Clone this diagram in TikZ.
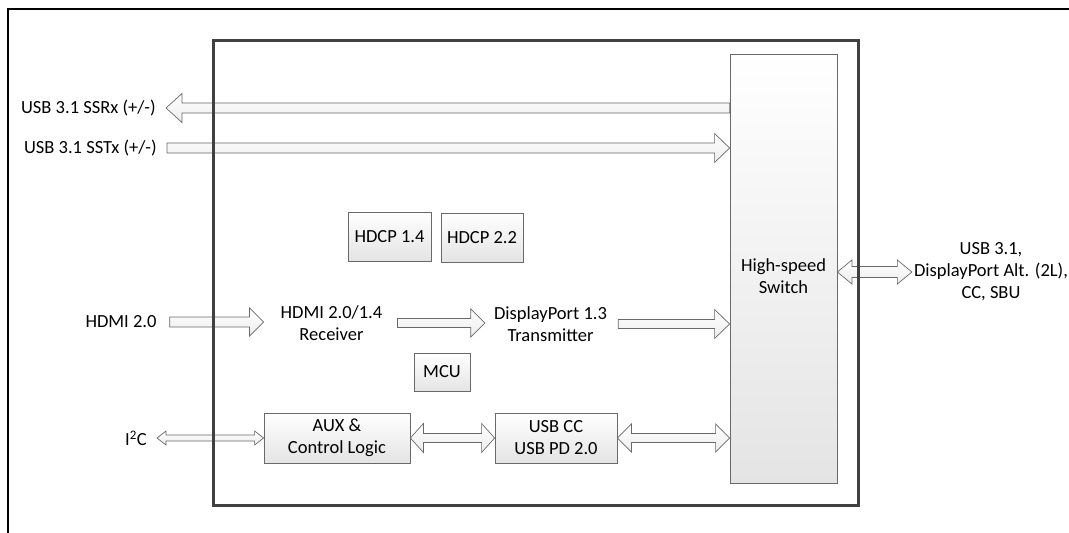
\documentclass[tikz,border=0pt]{standalone}
\usepackage{fontspec}
\setmainfont{Carlito}
\usetikzlibrary{calc}
\definecolor{chipgray}{RGB}{64, 64, 64}
\definecolor{edgegray}{RGB}{105, 105, 105}
\definecolor{shadegray}{RGB}{228, 228, 228}

\tikzset{
  txt/.style={inner sep=0pt,align=center,font=\fontsize{18.5}{22}\selectfont},
  blockbox/.style={txt,draw=edgegray,line width=0.8pt,top color=white,bottom color=shadegray},
  fatline/.style={draw=edgegray,line width=0.7pt,top color=white,bottom color=shadegray!70},
}

% wide arrow, head at #2, height taken from #1
\newcommand{\fatarrow}[5]{%
  \path[fatline] let \p1=(#1), \p2=(#2), \n1={sign(\x2-\x1)} in
    (\x1,\y1+#3pt) -- (\x2-\n1*#5pt,\y1+#3pt) -- (\x2-\n1*#5pt,\y1+#4pt) -- (\x2,\y1)
    -- (\x2-\n1*#5pt,\y1-#4pt) -- (\x2-\n1*#5pt,\y1-#3pt) -- (\x1,\y1-#3pt) -- cycle;}
% wide arrow, heads at both ends
\newcommand{\fatboth}[5]{%
  \path[fatline] let \p1=(#1), \p2=(#2), \n1={sign(\x2-\x1)} in
    (\x1,\y1) -- (\x1+\n1*#5pt,\y1+#4pt) -- (\x1+\n1*#5pt,\y1+#3pt)
    -- (\x2-\n1*#5pt,\y1+#3pt) -- (\x2-\n1*#5pt,\y1+#4pt) -- (\x2,\y1)
    -- (\x2-\n1*#5pt,\y1-#4pt) -- (\x2-\n1*#5pt,\y1-#3pt)
    -- (\x1+\n1*#5pt,\y1-#3pt) -- (\x1+\n1*#5pt,\y1-#4pt) -- cycle;}

\begin{document}
\begin{tikzpicture}[x=1pt,y=-1pt]
  \useasboundingbox (0,0) rectangle (1069,533);
  % outer frame
  \draw[line width=2.5pt] (8,533) -- (8,9) -- (1069,9);

  % switch
  \node[blockbox,minimum width=107pt,minimum height=429pt] (sw) at (783.5,268.5) {\rule{0pt}{29pt}High-speed\\Switch};

  % blocks
  \node[blockbox,minimum width=83pt,minimum height=49pt] (hdcpa) at (389.5,236.5) {HDCP 1.4};
  \node[blockbox,minimum width=82pt,minimum height=49pt] (hdcpb) at (482,237.5) {HDCP 2.2};
  \node[blockbox,minimum width=56pt,minimum height=38pt] (mcu) at (442,372) {MCU};
  \node[blockbox,minimum width=146pt,minimum height=50pt] (aux) at (337,438) {AUX \&\\Control Logic};
  \node[blockbox,minimum width=122pt,minimum height=50pt] (usbcc) at (556,438) {USB CC\\USB PD 2.0};
  \node[txt] (rcv) at (331.5,323) {HDMI 2.0/1.4\\Receiver};
  \node[txt] (dptx) at (550.5,324) {DisplayPort 1.3\\Transmitter};

  % pins
  \node[txt,anchor=east] (rx) at (156,108) {USB 3.1 SSRx (+/-)};
  \node[txt,anchor=east] (tx) at (157,148) {USB 3.1 SSTx (+/-)};
  \node[txt] (hin) at (121,322) {HDMI 2.0};
  \node[txt,anchor=east] (iic) at (147,438) {I\textsuperscript{2}C};
  \node[txt] (conn) at (991,272) {USB 3.1,\\DisplayPort Alt. (2L),\\CC, SBU};

  % connections
  \fatarrow{sw.west |- rx.east}{[xshift=10pt]rx.east}{5}{14.5}{16}
  \fatarrow{[xshift=10pt]tx.east}{sw.west}{5}{14.5}{15}
  \fatarrow{[xshift=13pt]hin.east}{[xshift=-17pt]rcv.west}{5}{14}{14}
  \fatarrow{[xshift=15pt]rcv.east}{[xshift=-9pt]dptx.west}{4.5}{14}{14}
  \fatarrow{[xshift=11pt]dptx.east}{sw.west}{4.5}{14.5}{15}
  \fatboth{aux.west}{[xshift=10pt]iic.east}{3}{7}{9}
  \fatboth{aux.east}{usbcc.west}{4.5}{14.5}{13}
  \fatboth{usbcc.east}{sw.west}{4.5}{14}{14}
  \fatboth{sw.east |- conn.west}{[xshift=-2pt]conn.west}{5.5}{12}{14.5}

  % chip outline
  \draw[chipgray,line width=3pt] (213,40) rectangle (858,505);
\end{tikzpicture}
\end{document}
